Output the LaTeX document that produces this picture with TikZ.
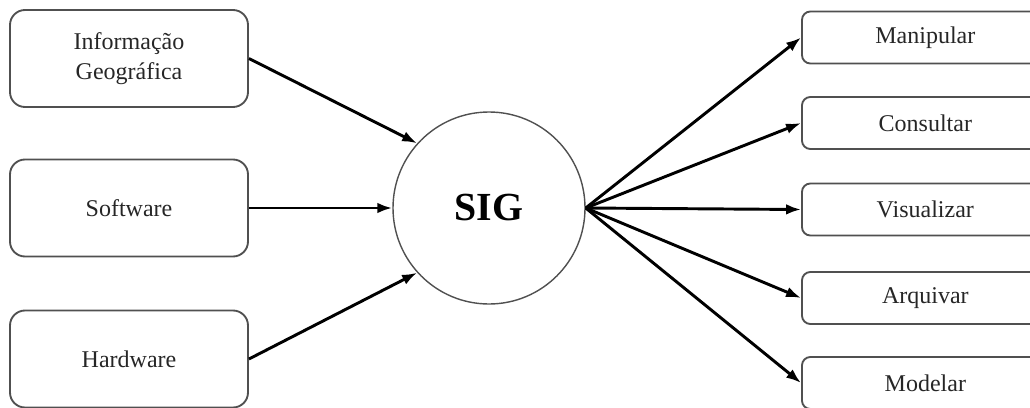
\documentclass[tikz,border=0pt]{standalone}
\usepackage{fontspec}
\setmainfont{Liberation Serif}
\usepackage{tikz}
\usetikzlibrary{arrows.meta}
\definecolor{boxLine}{HTML}{505050}

\begin{document}
\begin{tikzpicture}[
    inbox/.style={draw=boxLine, line width=1.6pt, rounded corners=0.45cm,
        minimum width=7.14cm, minimum height=2.91cm, align=center,
        font=\fontsize{20.5}{26}\selectfont, text=black!85},
    outbox/.style={draw=boxLine, line width=1.6pt, rounded corners=0.25cm,
        minimum width=7.4cm, minimum height=1.56cm,
        font=\fontsize{20.5}{26}\selectfont, text=black!85},
    flow/.style={line width=2.5pt, -{Latex[length=0.45cm,width=0.32cm]}}
]
    \useasboundingbox (0,0) rectangle (30.9,-12.21);
    % inputs on the left
    \node[inbox] (info) at (3.87,-1.755) {Informação\\Geográfica};
    \node[inbox] (soft) at (3.87,-6.24) {Software};
    \node[inbox] (hard) at (3.87,-10.77) {Hardware};
    % the system in the middle
    \node[circle, draw=boxLine, line width=1.2pt, minimum size=5.76cm,
        font=\fontsize{34}{40}\selectfont\bfseries] (sig) at (14.67,-6.24) {SIG};
    % tasks on the right (they run past the page edge)
    \node[outbox] (manip) at (27.76,-1.125) {Manipular};
    \node[outbox] (cons) at (27.76,-3.69) {Consultar};
    \node[outbox] (vis) at (27.76,-6.285) {Visualizar};
    \node[outbox] (arq) at (27.76,-8.94) {Arquivar};
    \node[outbox] (mod) at (27.76,-11.49) {Modelar};
    % arrows into SIG
    \draw[flow] (info.east) -- (sig.138);
    \draw[flow] (soft.east) -- (sig.west);
    \draw[flow] (hard.east) -- (sig.222);
    % arrows out of SIG
    \foreach \t in {manip, cons, vis, arq, mod}
        \draw[flow] (sig.east) -- (\t.west);
\end{tikzpicture}
\end{document}
